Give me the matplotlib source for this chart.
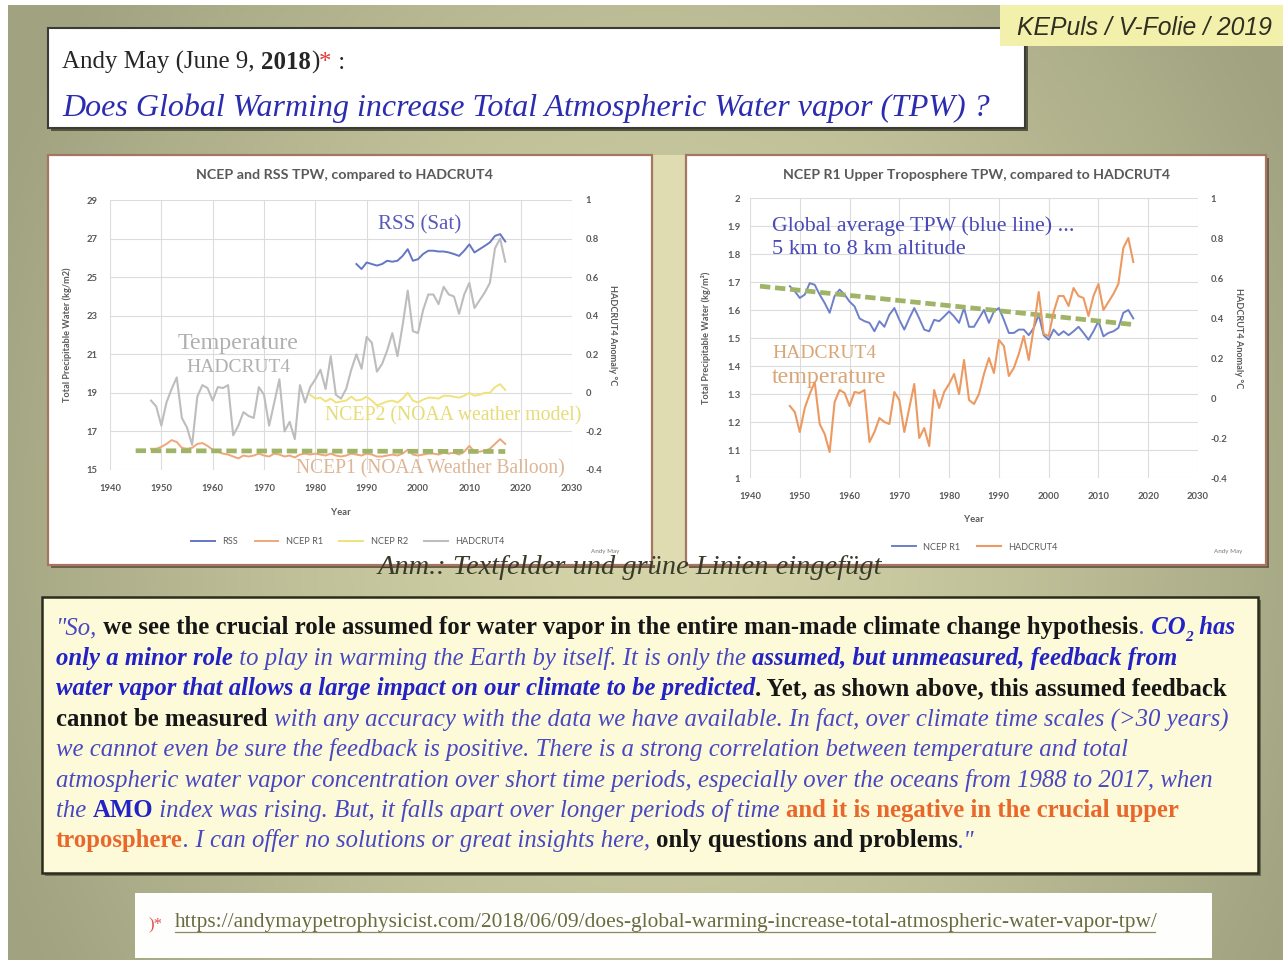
import numpy as np
import matplotlib.pyplot as plt
from matplotlib.patches import Rectangle

W, H = 1283, 960

YEARS = list(range(1948, 2018))
RSS_YEARS = list(range(1988, 2018))
R2_YEARS = list(range(1979, 2018))

# HADCRUT4 anomaly (deg C), 1948-2017
HADCRUT4 = [-0.04, -0.07, -0.17, -0.05, 0.02, 0.08, -0.13, -0.18, -0.27, -0.02,
            0.04, 0.025, -0.04, 0.03, 0.025, 0.04, -0.22, -0.17, -0.10, -0.12,
            -0.13, 0.03, -0.01, -0.17, -0.05, 0.07, -0.20, -0.15, -0.24, 0.04,
            -0.05, 0.03, 0.07, 0.12, 0.02, 0.19, -0.01, -0.03, 0.02, 0.12,
            0.20, 0.125, 0.29, 0.26, 0.11, 0.15, 0.22, 0.31, 0.19, 0.35,
            0.53, 0.32, 0.31, 0.43, 0.51, 0.51, 0.46, 0.55, 0.51, 0.50,
            0.41, 0.51, 0.57, 0.44, 0.48, 0.52, 0.57, 0.75, 0.80, 0.68]

# NCEP R1 total precipitable water (kg/m2), 1948-2017
NCEP_R1 = [16.1, 16.1, 16.2, 16.35, 16.55, 16.45, 16.15, 16.1, 16.15, 16.35,
           16.4, 16.25, 16.05, 15.95, 15.85, 15.8, 15.7, 15.6, 15.75, 15.7,
           15.75, 15.85, 15.75, 15.7, 15.85, 15.8, 15.7, 15.75, 15.65, 15.8,
           15.85, 15.8, 15.85, 15.8, 15.75, 15.85, 15.75, 15.7, 15.75, 15.85,
           15.8, 15.75, 15.85, 15.8, 15.7, 15.7, 15.75, 15.8, 15.75, 15.85,
           16.05, 15.8, 15.75, 15.8, 15.85, 15.85, 15.8, 15.9, 15.85, 15.9,
           15.8, 15.95, 16.25, 15.95, 15.95, 16.0, 16.1, 16.35, 16.6, 16.35]

# NCEP R2, 1979-2017
NCEP_R2 = [18.9, 18.7, 18.75, 18.55, 18.7, 18.5, 18.55, 18.6, 18.8, 18.6,
           18.65, 18.8, 18.6, 18.35, 18.45, 18.55, 18.6, 18.5, 18.7, 19.0,
           18.6, 18.5, 18.65, 18.75, 18.75, 18.7, 18.85, 18.85, 18.8, 18.75,
           18.85, 19.0, 18.85, 18.9, 19.0, 19.0, 19.3, 19.45, 19.15]

# RSS satellite, 1988-2017
RSS = [25.68, 25.42, 25.76, 25.68, 25.6, 25.68, 25.85, 25.8, 25.85, 26.1,
       26.45, 25.85, 25.93, 26.2, 26.37, 26.37, 26.33, 26.33, 26.28, 26.2,
       26.1, 26.37, 26.7, 26.28, 26.45, 26.62, 26.8, 27.14, 27.23, 26.85]

# NCEP R1 upper troposphere TPW (kg/m2), 1948-2017
NCEP_R1_UT = [1.685, 1.667, 1.643, 1.655, 1.696, 1.69, 1.655, 1.625, 1.59, 1.65,
              1.673, 1.655, 1.63, 1.613, 1.57, 1.56, 1.554, 1.524, 1.56, 1.54,
              1.583, 1.607, 1.565, 1.53, 1.57, 1.607, 1.57, 1.53, 1.524, 1.565,
              1.56, 1.577, 1.595, 1.577, 1.554, 1.607, 1.54, 1.54, 1.57, 1.6,
              1.554, 1.595, 1.607, 1.565, 1.518, 1.518, 1.53, 1.53, 1.51, 1.536,
              1.583, 1.51, 1.494, 1.53, 1.51, 1.524, 1.51, 1.524, 1.54, 1.518,
              1.494, 1.524, 1.56, 1.506, 1.518, 1.524, 1.536, 1.59, 1.6, 1.57]

# green trend lines added on the slide
TREND_L_YEARS = [1945, 2017]
TREND_L = [16.0, 15.96]
TREND_R_YEARS = [1942, 2017]
TREND_R = [1.685, 1.548]

DECADES = list(range(1940, 2031, 10))
TPW_TICKS = [15, 17, 19, 21, 23, 25, 27, 29]
UT_TICKS = [1.0, 1.1, 1.2, 1.3, 1.4, 1.5, 1.6, 1.7, 1.8, 1.9, 2.0]
UT_LABELS = ['1', '1.1', '1.2', '1.3', '1.4', '1.5', '1.6', '1.7', '1.8', '1.9', '2']
ANOM_TICKS = [-0.4, -0.2, 0, 0.2, 0.4, 0.6, 0.8, 1.0]
ANOM_LABELS = ['-0.4', '-0.2', '0', '0.2', '0.4', '0.6', '0.8', '1']

SERIF = 'Liberation Serif'
GRAY = '#595959'

plt.rcParams['font.family'] = ['Lato', 'DejaVu Sans']

fig = plt.figure(figsize=(W / 100, H / 100), dpi=100)

# ---- slide background
bg = fig.add_axes([0, 0, 1, 1], zorder=-5)
bg.set_xlim(0, W)
bg.set_ylim(H, 0)
bg.axis('off')
yy, xx = np.mgrid[0:H:4, 0:W:4]
t = np.clip(np.hypot((xx - 650) / 720.0, (yy - 520) / 900.0), 0, 1) ** 1.3
edge = np.array([160, 162, 128]) / 255.0
mid = np.array([214, 213, 170]) / 255.0
img = mid + (edge - mid) * t[..., None]
bg.imshow(img, extent=[8, W, H, 5], aspect='auto', zorder=0)


def box(x0, y0, x1, y1, fc, ec=None, lw=1.5, shadow=None):
    if shadow:
        bg.add_patch(Rectangle((x0 + 3, y0 + 3), x1 - x0, y1 - y0, fc=shadow, ec='none', zorder=1))
    bg.add_patch(Rectangle((x0, y0), x1 - x0, y1 - y0, fc=fc, ec=ec or 'none', lw=lw, zorder=2))


box(48, 28, 1025, 128, 'white', '#3c3c36', 1.5, shadow='#55553f')
box(1000, 5, W, 46, '#f3f0ab')
box(653, 155, 686, 565, '#dedcb0')
box(48, 155, 652, 565, 'white', '#a77563', 1.6, shadow='#6e5f48')
box(686, 155, 1266, 565, 'white', '#a77563', 1.6, shadow='#6e5f48')
box(42, 597, 1258, 873, '#fdfad9', '#2c2c1c', 1.8, shadow='#6b6b52')
box(135, 893, 1212, 958, '#fefefc')

# ---- left chart
axL = fig.add_axes([110 / W, 1 - 470 / H, 462 / W, 270 / H])
axL.set_xlim(1940, 2030)
axL.set_ylim(15, 29)
axL.set_xticks(DECADES)
axL.set_yticks(TPW_TICKS)
axL.plot(RSS_YEARS, RSS, color='#6476c4', lw=1.4, label='RSS')
axL.plot(YEARS, NCEP_R1, color='#eea77a', lw=1.4, label='NCEP R1')
axL.plot(R2_YEARS, NCEP_R2, color='#f1e27c', lw=1.4, label='NCEP R2')
axL.plot(TREND_L_YEARS, TREND_L, color='#9fb466', lw=3.4, dashes=(2.2, 1.0))
axL2 = axL.twinx()
axL2.set_ylim(-0.4, 1.0)
axL2.set_yticks(ANOM_TICKS)
axL2.set_yticklabels(ANOM_LABELS)
axL2.plot(YEARS, HADCRUT4, color='#bdbdbd', lw=1.5, label='HADCRUT4')
axL.set_ylabel('Total Precipitable Water (kg/m2)', fontsize=6.6, weight='bold', color=GRAY)
axL.yaxis.set_label_coords(-0.082, 0.5)
axL2.set_ylabel('HADCRUT4 Anomaly °C', fontsize=6.6, weight='bold', color=GRAY, rotation=270)
axL2.yaxis.set_label_coords(1.097, 0.5)
axL.set_xlabel('Year', fontsize=6.8, weight='bold', color=GRAY)
axL.xaxis.set_label_coords(0.5, -0.14)

# ---- right chart
axR = fig.add_axes([750 / W, 1 - 478 / H, 448 / W, 280 / H])
axR.set_xlim(1940, 2030)
axR.set_ylim(1.0, 2.0)
axR.set_xticks(DECADES)
axR.set_yticks(UT_TICKS)
axR.set_yticklabels(UT_LABELS)
axR.plot(YEARS, NCEP_R1_UT, color='#6d80c9', lw=1.4, label='NCEP R1')
axR.plot(TREND_R_YEARS, TREND_R, color='#9fb466', lw=3.4, dashes=(2.2, 1.0))
axR2 = axR.twinx()
axR2.set_ylim(-0.4, 1.0)
axR2.set_yticks(ANOM_TICKS)
axR2.set_yticklabels(ANOM_LABELS)
axR2.plot(YEARS, HADCRUT4, color='#ec9a62', lw=1.5, label='HADCRUT4')
axR.set_ylabel('Total Precipitable Water (kg/m²)', fontsize=6.6, weight='bold', color=GRAY)
axR.yaxis.set_label_coords(-0.087, 0.5)
axR2.set_ylabel('HADCRUT4 Anomaly °C', fontsize=6.6, weight='bold', color=GRAY, rotation=270)
axR2.yaxis.set_label_coords(1.10, 0.5)
axR.set_xlabel('Year', fontsize=6.8, weight='bold', color=GRAY)
axR.xaxis.set_label_coords(0.5, -0.132)

for a in (axL, axL2, axR, axR2):
    for s in a.spines.values():
        s.set_visible(False)
    a.tick_params(length=0, labelsize=6.8, labelcolor=GRAY)
for a in (axL, axR):
    a.grid(color='#dcdcdc', lw=0.8)
    a.set_axisbelow(True)
    a.tick_params(axis='x', pad=10)
axL.tick_params(axis='y', pad=9)
axL2.tick_params(axis='y', pad=10)
axR.tick_params(axis='y', pad=7)
axR2.tick_params(axis='y', pad=9)
for a in (axL, axL2, axR, axR2):
    for lab in a.get_xticklabels() + a.get_yticklabels():
        lab.set_fontweight('bold')

hl = axL.get_lines()[:3] + axL2.get_lines()
fig.legend(hl, [h.get_label() for h in hl], loc='center', bbox_to_anchor=(348 / W, 1 - 542 / H),
           ncol=4, frameon=False, fontsize=6.6, labelcolor=GRAY, handlelength=2.6, columnspacing=1.8)
hr = axR.get_lines()[:1] + axR2.get_lines()
fig.legend(hr, [h.get_label() for h in hr], loc='center', bbox_to_anchor=(975 / W, 1 - 547 / H),
           ncol=2, frameon=False, fontsize=6.6, labelcolor=GRAY, handlelength=2.6, columnspacing=1.8)

# ---- overlay for all slide text
ov = fig.add_axes([0, 0, 1, 1], zorder=10)
ov.set_xlim(0, W)
ov.set_ylim(H, 0)
ov.axis('off')
rend = fig.canvas.get_renderer()


def text_w(s, **kw):
    a = ov.text(0, 0, '|' + s + '|', **kw)
    b = ov.text(0, 0, '||', **kw)
    w = a.get_window_extent(rend).width - b.get_window_extent(rend).width
    a.remove()
    b.remove()
    return w


def fit(s, x, y, width, va='center', **kw):
    size = 10 * width / text_w(s, fontsize=10, **kw)
    return ov.text(x, y, s, fontsize=size, ha='left', va=va, **kw)


ST = {
    'n': dict(color='#262626'),
    'nb': dict(weight='bold', color='#262626'),
    'red': dict(color='#e03a3a'),
    'i': dict(style='italic', color='#4848c2'),
    'k': dict(weight='bold', color='#161616'),
    'bi': dict(style='italic', weight='bold', color='#2222c6'),
    'sub': dict(style='italic', weight='bold', color='#2222c6'),
    'b': dict(weight='bold', color='#2222c6'),
    'o': dict(weight='bold', color='#e8682c'),
}


def part_kw(st, size):
    f = 0.62 if st == 'sub' else 1.0
    return dict(family=SERIF, fontsize=size * f, **ST[st])


def rich_width(parts, size):
    return sum(text_w(s, **part_kw(st, size)) for s, st in parts)


def rich(parts, x, y, size):
    for s, st in parts:
        dy = 0.3 * size * 100 / 72 if st == 'sub' else 0
        ov.text(x, y + dy, s, va='baseline', ha='left', **part_kw(st, size))
        x += text_w(s, **part_kw(st, size))


# header
HEAD = [('Andy May (June 9, ', 'n'), ('2018', 'nb'), (')', 'n'), ('*', 'red'), (' :', 'n')]
rich(HEAD, 62, 69, 10 * 283 / rich_width(HEAD, 10))
fit('Does Global Warming increase Total Atmospheric Water vapor (TPW) ?', 62, 116, 930,
    va='baseline', family=SERIF, style='italic', color='#2c2cb0')
fit('KEPuls / V-Folie / 2019', 1017, 28, 256, family='Liberation Sans', style='italic', color='#2e2e22')

# chart titles and credits
fit('NCEP and RSS TPW, compared to HADCRUT4', 196, 175, 297, weight='bold', color=GRAY)
fit('NCEP R1 Upper Troposphere TPW, compared to HADCRUT4', 783, 175, 387, weight='bold', color=GRAY)
ov.text(605, 552, 'Andy May', fontsize=4.5, color='#777777', ha='center', va='center')
ov.text(1228, 551, 'Andy May', fontsize=4.5, color='#777777', ha='center', va='center')

# annotations in the charts
fit('RSS (Sat)', 378, 225, 84, family=SERIF, color='#5a5ab8')
fit('Temperature', 178, 343, 120, family=SERIF, color='#b0b0b0')
fit('HADCRUT4', 186, 367, 104, family=SERIF, color='#b0b0b0')
fit('NCEP2 (NOAA weather model)', 325, 416, 257, family=SERIF, color='#e6dc78')
fit('NCEP1 (NOAA Weather Balloon)', 296, 469, 270, family=SERIF, color='#dfb695')
fit('Global average TPW (blue line) ...', 772, 226, 301, family=SERIF, color='#4a4ab8')
fit('5 km to 8 km altitude', 772, 249, 193, family=SERIF, color='#4a4ab8')
fit('HADCRUT4', 772, 353, 104, family=SERIF, color='#d9a678')
fit('temperature', 772, 378, 114, family=SERIF, color='#d9a678')

fit('Anm.: Textfelder und grüne Linien eingefügt', 378, 568, 504, family=SERIF, style='italic',
    color='#3a3a2a')

# quote
QUOTE = [
    [('"So,', 'i'), (' we see the crucial role assumed for water vapor in the entire man-made climate change hypothesis', 'k'),
     ('.', 'i'), (' CO', 'bi'), ('2', 'sub'), (' has', 'bi')],
    [('only a minor role', 'bi'), (' to play in warming the Earth by itself. It is only the ', 'i'),
     ('assumed, but unmeasured, feedback from', 'bi')],
    [('water vapor that allows a large impact on our climate to be predicted', 'bi'),
     ('. Yet, as shown above, this assumed feedback', 'k')],
    [('cannot be measured', 'k'),
     (' with any accuracy with the data we have available. In fact, over climate time scales (>30 years)', 'i')],
    [('we cannot even be sure the feedback is positive. There is a strong correlation between temperature and total', 'i')],
    [('atmospheric water vapor concentration over short time periods, especially over the oceans from 1988 to 2017, when', 'i')],
    [('the ', 'i'), ('AMO', 'b'), (' index was rising. But, it falls apart over longer periods of time ', 'i'),
     ('and it is negative in the crucial upper', 'o')],
    [('troposphere', 'o'), ('. I can offer no solutions or great insights here, ', 'i'),
     ('only questions and problems', 'k'), ('."', 'i')],
]
qsize = 10 * 1184 / rich_width(QUOTE[0], 10)
for i, line in enumerate(QUOTE):
    rich(line, 56, 634 + 30.5 * i, qsize)

# link
ov.text(148, 925, ')*', family=SERIF, fontsize=12, color='#e05050', va='center')
url = fit('https://andymaypetrophysicist.com/2018/06/09/does-global-warming-increase-total-atmospheric-water-vapor-tpw/',
          175, 923, 980, family=SERIF, color='#6b6b40')
ov.plot([175, 1155], [932, 932], color='#8a8a5a', lw=0.9)

fig.savefig('out.png', dpi=100)
